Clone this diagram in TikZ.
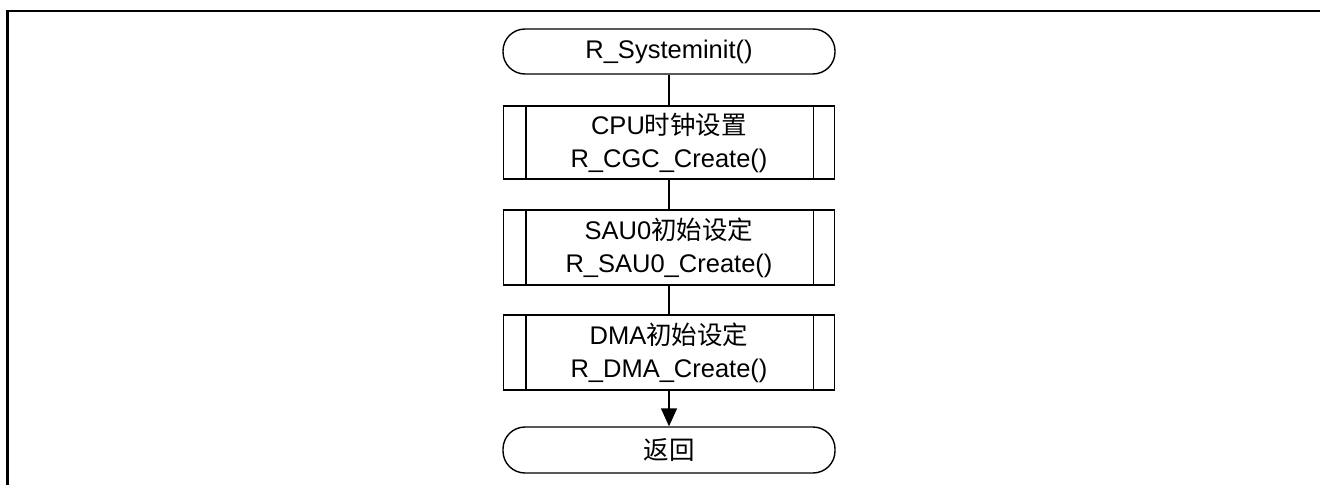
\documentclass[tikz,border=0pt]{standalone}
\usepackage{fontspec}
\setmainfont{Liberation Sans}
\newfontfamily\cjk{Noto Sans CJK SC}
\usetikzlibrary{arrows.meta}
\tikzset{
  term/.style={draw, line width=1.4pt, rounded corners=22pt, minimum width=332pt, inner sep=0pt, font=\fontsize{25.5}{33}\selectfont, align=center},
  proc/.style={draw, line width=1.4pt, minimum width=331pt, inner sep=0pt, font=\fontsize{25.5}{33}\selectfont, align=center},
  conn/.style={line width=1.4pt},
  frameline/.style={line width=2.2pt}
}
\begin{document}
\begin{tikzpicture}[x=1pt,y=-1pt]
\useasboundingbox (0,0) rectangle (1320,485);
\draw[frameline] (7.5,485) -- (7.5,11) -- (1320,11);
\node[term, minimum height=45pt] (t1) at (669,51.5) {R\_Systeminit()};
\node[proc, minimum height=73pt] (b1) at (669,142.5) {CPU{\cjk 时钟设置}\\R\_CGC\_Create()};
\node[proc, minimum height=75pt] (b2) at (669,247.5) {SAU0{\cjk 初始设定}\\R\_SAU0\_Create()};
\node[proc, minimum height=75pt] (b3) at (669,352.5) {DMA{\cjk 初始设定}\\R\_DMA\_Create()};
\node[term, minimum height=46pt] (t2) at (669,450) {\cjk 返回};
\foreach \b in {b1,b2,b3}{
  \draw[conn] ([xshift=23pt]\b.north west) -- ([xshift=23pt]\b.south west);
  \draw[conn] ([xshift=-22pt]\b.north east) -- ([xshift=-22pt]\b.south east);
}
\draw[conn] (t1) -- (b1);
\draw[conn] (b1) -- (b2);
\draw[conn] (b2) -- (b3);
\draw[conn, -{Triangle[width=16pt,length=18pt]}] (b3) -- (t2);
\end{tikzpicture}
\end{document}
